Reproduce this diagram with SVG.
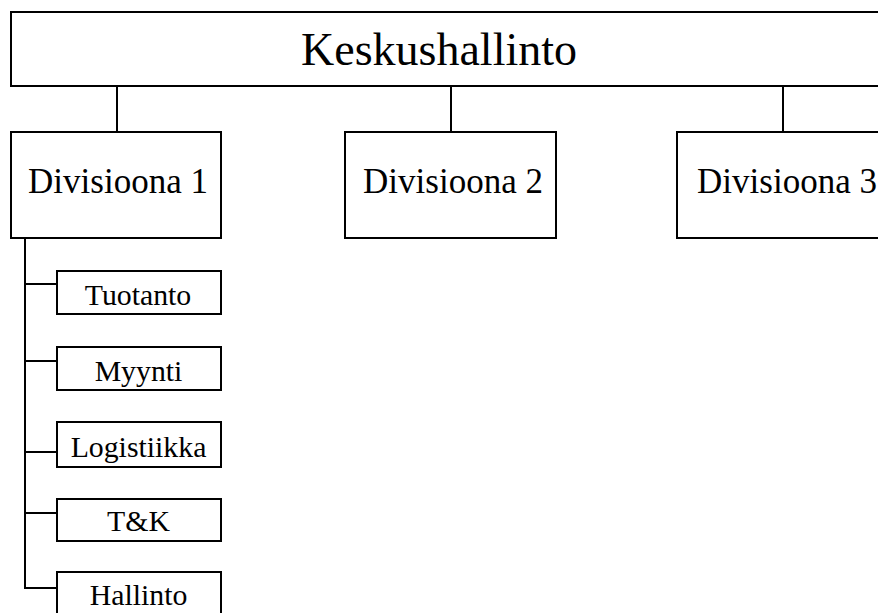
<svg xmlns="http://www.w3.org/2000/svg" width="878" height="613" viewBox="0 0 878 613">
<style>
rect{fill:#fff;stroke:#000;stroke-width:2}
line{stroke:#000;stroke-width:2}
text{font-family:"Liberation Serif","Times New Roman",serif;fill:#000;text-anchor:middle}
.t0{font-size:46px}
.t1{font-size:35px}
.t2{font-size:29.8px}
</style>
<rect x="0" y="0" width="878" height="613" style="stroke:none"/>
<g id="connectors">
<line x1="117" y1="86" x2="117" y2="132"/>
<line x1="451" y1="86" x2="451" y2="132"/>
<line x1="783" y1="86" x2="783" y2="132"/>
<line x1="25" y1="238" x2="25" y2="588"/>
<line x1="24" y1="284" x2="57" y2="284"/>
<line x1="24" y1="361" x2="57" y2="361"/>
<line x1="24" y1="452" x2="57" y2="452"/>
<line x1="24" y1="513" x2="57" y2="513"/>
<line x1="24" y1="588" x2="57" y2="588"/>
</g>
<g id="keskushallinto">
<rect x="11" y="12" width="880" height="74"/>
<text class="t0" x="439" y="65">Keskushallinto</text>
</g>
<g id="divisioona1">
<rect x="11" y="132" width="210" height="106"/>
<text class="t1" x="118" y="193">Divisioona 1</text>
</g>
<g id="divisioona2">
<rect x="345" y="132" width="211" height="106"/>
<text class="t1" x="453" y="193">Divisioona 2</text>
</g>
<g id="divisioona3">
<rect x="677" y="132" width="215" height="106"/>
<text class="t1" x="787" y="193">Divisioona 3</text>
</g>
<g id="tuotanto">
<rect x="57" y="271" width="164" height="43"/>
<text class="t2" x="138" y="305">Tuotanto</text>
</g>
<g id="myynti">
<rect x="57" y="347" width="164" height="43"/>
<text class="t2" x="138.5" y="381">Myynti</text>
</g>
<g id="logistiikka">
<rect x="57" y="422" width="164" height="45"/>
<text class="t2" x="138.5" y="457">Logistiikka</text>
</g>
<g id="tk">
<rect x="57" y="499" width="164" height="42"/>
<text class="t2" x="138.5" y="531">T&amp;K</text>
</g>
<g id="hallinto">
<rect x="57" y="572" width="164" height="50"/>
<text class="t2" x="138.5" y="605">Hallinto</text>
</g>
</svg>
